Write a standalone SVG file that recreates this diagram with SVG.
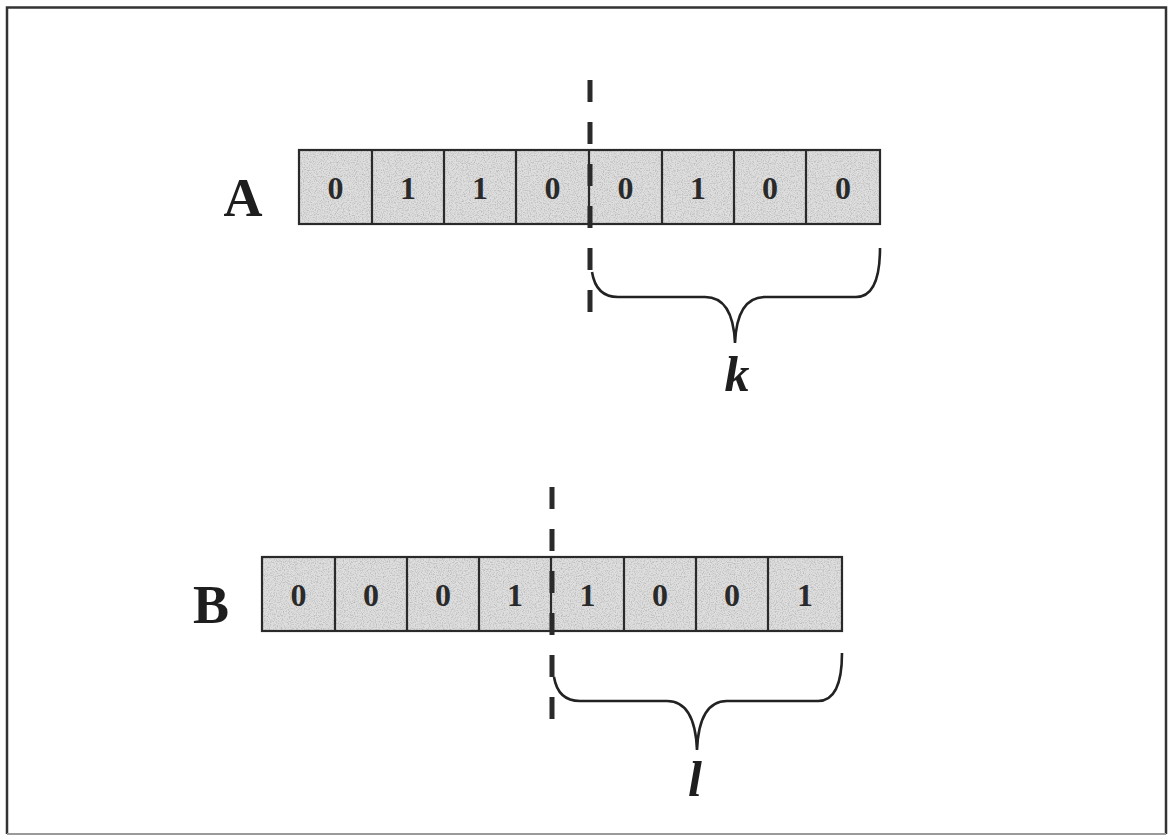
<svg xmlns="http://www.w3.org/2000/svg" width="1170" height="836" viewBox="0 0 1170 836">
  <style>
    .bit { font-family: "Liberation Serif", serif; font-weight: bold; font-size: 32px; fill: #2a2a2a; text-anchor: middle; }
    .name { font-family: "Liberation Serif", serif; font-weight: bold; font-size: 54px; fill: #1e1e1e; text-anchor: middle; }
    .var { font-family: "Liberation Serif", serif; font-weight: bold; font-style: italic; font-size: 50px; fill: #1e1e1e; text-anchor: middle; }
    .cut { stroke: #2a2a2a; stroke-width: 5; stroke-dasharray: 22 20; fill: none; }
    .brace { stroke: #222; stroke-width: 2.6; fill: none; }
    .grid { fill: none; stroke: #2a2a2a; stroke-width: 2.2; }
  </style>
  <defs>
    <!-- speckled halftone texture for the cell background -->
    <filter id="grain" x="0" y="0" width="100%" height="100%">
      <feTurbulence type="fractalNoise" baseFrequency="0.85" numOctaves="2" seed="3" result="n"/>
      <feColorMatrix in="n" type="matrix" values="0 0 0 0 0.45  0 0 0 0 0.45  0 0 0 0 0.45  0 0 0 -2.2 1.25" result="dots"/>
      <feComposite in="dots" in2="SourceGraphic" operator="in"/>
    </filter>
  </defs>

  <rect x="0" y="0" width="1170" height="836" fill="#ffffff"/>
  <!-- outer frame -->
  <path d="M7 834V7.5H1166V834" fill="none" stroke="#333" stroke-width="2.5"/>
  <line x1="7" y1="834" x2="1166" y2="834" stroke="#9a9a9a" stroke-width="2"/>

  <!-- register A -->
  <g id="regA">
    <text class="name" x="243" y="216">A</text>
    <rect x="299" y="150" width="581" height="74" fill="#dedede"/>
    <rect x="299" y="150" width="581" height="74" fill="#000" filter="url(#grain)"/>
    <rect class="grid" x="299" y="150" width="581" height="74"/>
    <path class="grid" d="M372 150V224M444 150V224M516 150V224M589 150V224M662 150V224M734 150V224M806 150V224"/>
    <text class="bit" x="335.5" y="199">0</text>
    <text class="bit" x="408" y="199">1</text>
    <text class="bit" x="480" y="199">1</text>
    <text class="bit" x="552.5" y="199">0</text>
    <text class="bit" x="625.5" y="199">0</text>
    <text class="bit" x="698" y="199">1</text>
    <text class="bit" x="770" y="199">0</text>
    <text class="bit" x="843" y="199">0</text>
  </g>

  <!-- register B -->
  <g id="regB">
    <text class="name" x="211" y="623">B</text>
    <rect x="262" y="557" width="580" height="74" fill="#dedede"/>
    <rect x="262" y="557" width="580" height="74" fill="#000" filter="url(#grain)"/>
    <rect class="grid" x="262" y="557" width="580" height="74"/>
    <path class="grid" d="M335 557V631M407 557V631M479 557V631M551 557V631M624 557V631M696 557V631M768 557V631"/>
    <text class="bit" x="298.5" y="606">0</text>
    <text class="bit" x="371" y="606">0</text>
    <text class="bit" x="443" y="606">0</text>
    <text class="bit" x="515" y="606">1</text>
    <text class="bit" x="587.5" y="606">1</text>
    <text class="bit" x="660" y="606">0</text>
    <text class="bit" x="732" y="606">0</text>
    <text class="bit" x="805" y="606">1</text>
  </g>

  <!-- split markers and braces -->
  <g id="connectors">
    <line class="cut" x1="590" y1="80" x2="590" y2="314"/>
    <line class="cut" x1="552" y1="487" x2="552" y2="722"/>
    <path class="brace" d="M592 272 Q596 297 618 297 L705 297 Q733 297 735 343 Q737 297 765 297 L856 297 Q880 297 880 248"/>
    <path class="brace" d="M554 677 Q558 701 580 701 L667 701 Q695 701 697 750 Q699 701 727 701 L818 701 Q842 701 842 653"/>
  </g>

  <g id="labelK"><text class="var" x="737" y="391">k</text></g>
  <g id="labelL"><text class="var" x="695" y="796">l</text></g>
</svg>
